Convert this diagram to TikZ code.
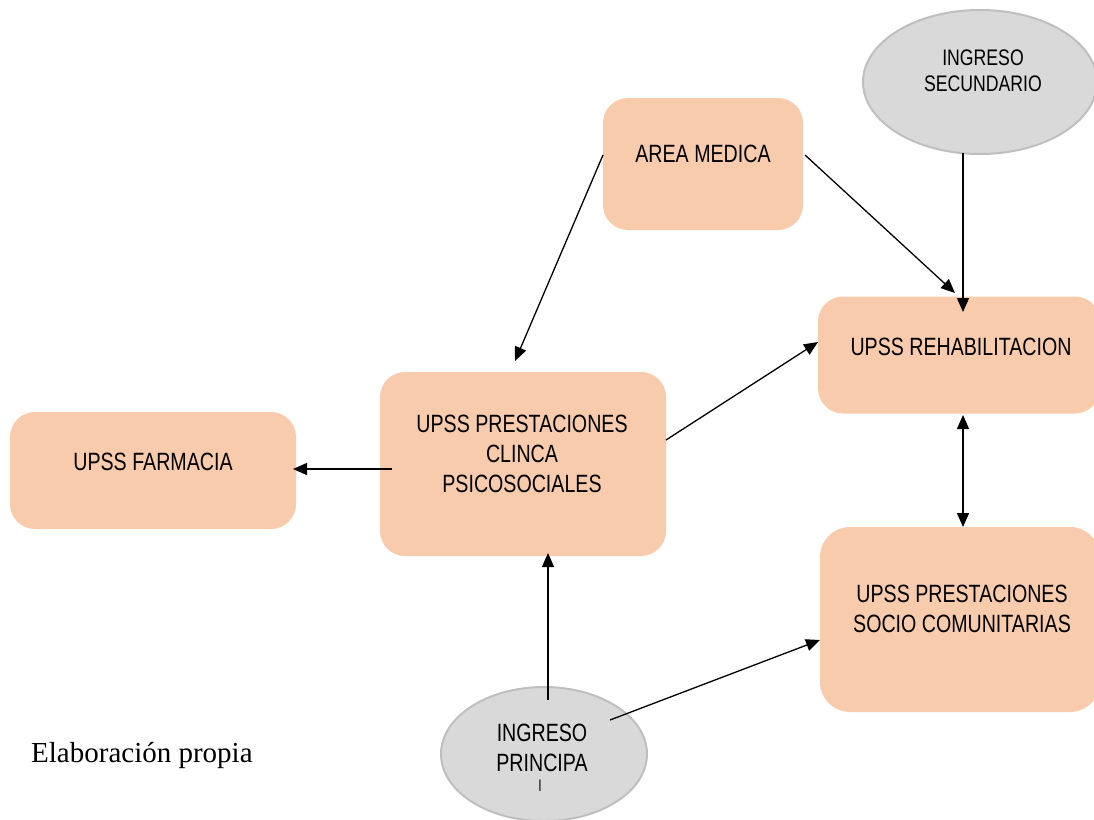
\documentclass[tikz,border=0pt]{standalone}
\usepackage{fontspec}
\setmainfont{Liberation Sans}
\newfontfamily\narrow{Liberation Sans}[FakeStretch=0.785]
\newfontfamily\serifface{Liberation Serif}
\usetikzlibrary{arrows.meta,shapes.geometric}
\definecolor{peach}{HTML}{F8CBAD}
\definecolor{grayfill}{HTML}{D9D9D9}
\definecolor{grayline}{HTML}{BFBFBF}
\tikzset{
  box/.style={fill=peach,draw=none,rounded corners=25pt,inner sep=0pt},
  oval/.style={ellipse,fill=grayfill,draw=grayline,line width=2pt,inner sep=0pt},
  lbl/.style={align=center,inner sep=0pt,font=\narrow\fontsize{25}{30}\selectfont},
  slbl/.style={align=center,inner sep=0pt,font=\narrow\fontsize{22.5}{26}\selectfont},
  conn/.style={line width=1.3pt,-{Triangle[length=14pt,width=12pt]}},
}
\begin{document}
\begin{tikzpicture}[x=1pt,y=-1pt]
\useasboundingbox (0,0) rectangle (1094,819);
% boxes
\node[box,minimum width=200pt,minimum height=132pt] (area) at (703,164) {};
\node[box,minimum width=286pt,minimum height=184pt] (clin) at (523,464) {};
\node[box,minimum width=286pt,minimum height=117pt] (farm) at (153,470.5) {};
\node[box,minimum width=282pt,minimum height=117pt] (rehab) at (959,355) {};
\node[box,minimum width=280pt,minimum height=185pt,rounded corners=30pt] (socio) at (960,619.5) {};
\node[oval,minimum width=234pt,minimum height=144pt] (sec) at (980,82) {};
\node[oval,minimum width=206pt,minimum height=134pt] (prin) at (544,754) {};
% texts
\node[lbl] (areat) at (703,154) {AREA MEDICA};
\node[lbl] (clint) at (522,454) {UPSS PRESTACIONES\\CLINCA\\PSICOSOCIALES};
\node[lbl] (farmt) at (153,462) {UPSS FARMACIA};
\node[lbl] (rehabt) at (961,347) {UPSS REHABILITACION};
\node[lbl] (sociot) at (962,609) {UPSS PRESTACIONES\\SOCIO COMUNITARIAS};
\node[slbl] (sect) at (983,71) {INGRESO\\SECUNDARIO};
\node[lbl] (print) at (542,748) {INGRESO\\PRINCIPA};
\node[inner sep=0pt,font=\narrow\fontsize{16}{16}\selectfont] (prinl) at (540,786) {l};
\node[anchor=west,inner sep=0pt,font=\serifface\fontsize{29}{30}\selectfont] (elab) at (31,755) {Elaboración propia};
% connector end points
\coordinate (a1s) at (603,155); \coordinate (a1e) at (515,361);
\coordinate (a2s) at (805,155); \coordinate (a2e) at (955,293);
\coordinate (s1s) at (963,153); \coordinate (s1e) at (963,312);
\coordinate (c1s) at (666,440); \coordinate (c1e) at (818,342);
\coordinate (c2s) at (392,469); \coordinate (c2e) at (293,469);
\coordinate (r1s) at (963,415); \coordinate (r1e) at (963,527);
\coordinate (p1s) at (548,700); \coordinate (p1e) at (548,553);
\coordinate (p2s) at (610,720); \coordinate (p2e) at (820,640);
% connectors
\draw[conn] (a1s) -- (a1e);
\draw[conn] (a2s) -- (a2e);
\draw[conn] (s1s) -- (s1e);
\draw[conn] (c1s) -- (c1e);
\draw[conn] (c2s) -- (c2e);
\draw[conn,{Triangle[length=14pt,width=12pt]}-{Triangle[length=14pt,width=12pt]}] (r1s) -- (r1e);
\draw[conn] (p1s) -- (p1e);
\draw[conn] (p2s) -- (p2e);
\end{tikzpicture}
\end{document}
